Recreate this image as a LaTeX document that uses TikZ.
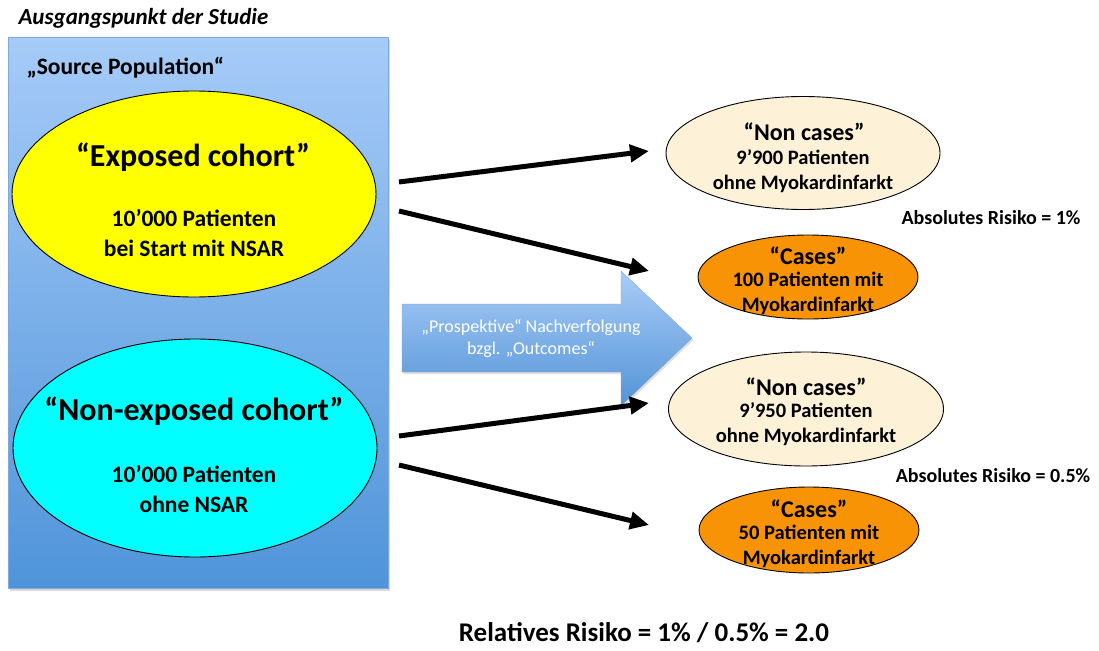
\documentclass[tikz,border=0pt]{standalone}
\usepackage{fontspec}
\setmainfont{Carlito}
\usetikzlibrary{shapes.geometric,arrows.meta,shadows}
\definecolor{rtop}{HTML}{A6CBF8}
\definecolor{rbot}{HTML}{4F94D9}
\definecolor{rborder}{HTML}{7FA9DC}
\definecolor{atop}{HTML}{A9CCF7}
\definecolor{abot}{HTML}{5394D7}
\definecolor{cream}{HTML}{FDF1D8}
\definecolor{orng}{HTML}{F89306}
\definecolor{yel}{HTML}{FFFF00}
\definecolor{cyn}{HTML}{00FFFF}
\begin{document}
\begin{tikzpicture}[x=1pt,y=-1pt,
  ell/.style={draw=black, line width=0.9pt, ellipse, inner sep=0pt},
  conn/.style={line width=5pt, -{Triangle[length=19pt,width=17pt]}},
  big/.style={font=\bfseries\fontsize{32}{36}\selectfont},
  mid/.style={font=\bfseries\fontsize{23.5}{30}\selectfont},
  head/.style={font=\bfseries\fontsize{24}{26}\selectfont},
  sub/.style={font=\bfseries\fontsize{20.5}{25}\selectfont},
  risk/.style={font=\bfseries\fontsize{20}{22}\selectfont},
]
\useasboundingbox (0,0) rectangle (1099,650);
\node[font=\bfseries\itshape\fontsize{23}{26}\selectfont, anchor=west] (title) at (15,18) {Ausgangspunkt der Studie};
\node[draw=rborder, line width=0.6pt, top color=rtop, bottom color=rbot, minimum width=380pt, minimum height=551pt, anchor=north west, inner sep=0pt,
  drop shadow={opacity=0.3, shadow xshift=2pt, shadow yshift=-3pt}] (src) at (8,37) {};
\node[font=\bfseries\fontsize{23.5}{26}\selectfont, anchor=west] (srclab) at (23,68) {„Source Population“};
% cohorts
\node[ell, fill=yel, minimum width=364pt, minimum height=206pt] (expo) at (194,194) {};
\node[big] (expot) at (193,157) {“Exposed cohort”};
\node[mid, align=center] (expod) at (194,233) {10’000 Patienten\\bei Start mit NSAR};
\node[ell, fill=cyn, minimum width=364pt, minimum height=218pt] (nonexpo) at (195,448) {};
\node[big] (nonexpot) at (194,411) {“Non-exposed cohort”};
\node[mid, align=center] (nonexpod) at (194,489) {10’000 Patienten\\ohne NSAR};
% block arrow
\path[top color=atop, bottom color=abot, draw=atop!80!black, line width=0.3pt,
  drop shadow={opacity=0.25, shadow xshift=1.5pt, shadow yshift=-2pt}]
  (402,304) -- (621,304) -- (621,271) -- (692,338) -- (621,406) -- (621,372) -- (402,372) -- cycle;
\node[text=white, align=center, font=\fontsize{18}{22}\selectfont] (follow) at (531,339) {„Prospektive“ Nachverfolgung\\bzgl. „Outcomes“};
% outcomes
\node[ell, fill=cream, minimum width=274pt, minimum height=113pt] (nc1) at (803,153) {};
\node[head] (nc1t) at (804,132) {“Non cases”};
\node[sub, align=center] (nc1d) at (803,171) {9’900 Patienten\\ohne Myokardinfarkt};
\node[ell, fill=orng, minimum width=220pt, minimum height=84pt] (c1) at (808,277) {};
\node[head] (c1t) at (808,256) {“Cases”};
\node[sub, align=center] (c1d) at (808,293) {100 Patienten mit\\Myokardinfarkt};
\node[ell, fill=cream, minimum width=275pt, minimum height=114pt] (nc2) at (806,409) {};
\node[head] (nc2t) at (806,387) {“Non cases”};
\node[sub, align=center] (nc2d) at (806,424) {9’950 Patienten\\ohne Myokardinfarkt};
\node[ell, fill=orng, minimum width=220pt, minimum height=86pt] (c2) at (809,530) {};
\node[head] (c2t) at (809,509) {“Cases”};
\node[sub, align=center] (c2d) at (809,546) {50 Patienten mit\\Myokardinfarkt};
\node[risk] (ar1) at (991,218) {Absolutes Risiko = 1\%};
\node[risk] (ar2) at (993,476) {Absolutes Risiko = 0.5\%};
\node[font=\bfseries\fontsize{27}{30}\selectfont] (rr) at (644,633) {Relatives Risiko = 1\% / 0.5\% = 2.0};
% connectors
\coordinate (s1) at (399,182); \coordinate (e1) at (649,151);
\coordinate (s2) at (399,211); \coordinate (e2) at (649,271);
\coordinate (s3) at (399,436); \coordinate (e3) at (649,403);
\coordinate (s4) at (399,465); \coordinate (e4) at (649,525);
\draw[conn] (s1) -- (e1);
\draw[conn] (s2) -- (e2);
\draw[conn] (s3) -- (e3);
\draw[conn] (s4) -- (e4);
\end{tikzpicture}
\end{document}
